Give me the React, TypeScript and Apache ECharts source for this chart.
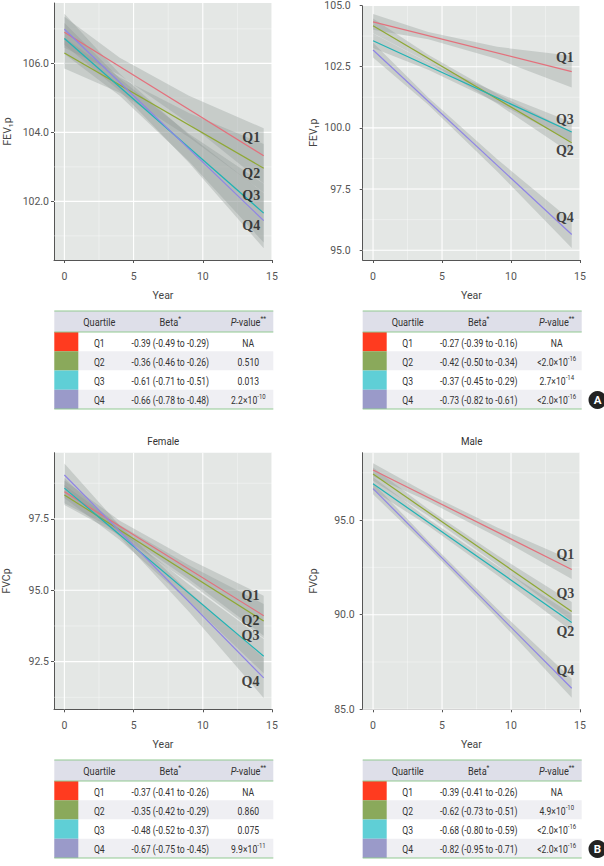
import React, { useEffect, useRef } from "react";
import * as echarts from "echarts";

// ---------------- data ----------------
const quartiles = ["Q1", "Q2", "Q3", "Q4"];
const fitYears = [0, 14.4];
const bandYears = [0, 4, 9, 14.4];
const xTickValues = [0, 5, 10, 15];
const xMinorValues = [2.5, 7.5, 12.5];

// A, female FEV1p
const fevFemaleFit = [[106.9, 103.32], [106.3, 102.96], [106.72, 101.66], [106.99, 101.44]];
const fevFemaleLow = [[106.45, 105.66, 104.26, 102.52], [105.85, 105.15, 103.86, 102.26], [106.27, 105.06, 103.16, 100.81], [106.54, 105.2, 103.12, 100.64]];
const fevFemaleHigh = [[107.35, 106.16, 105.06, 104.12], [106.75, 105.59, 104.56, 103.66], [107.17, 105.56, 103.96, 102.51], [107.44, 105.7, 103.92, 102.24]];
const fevFemaleLabelAt = [[13.5, 103.84], [13.5, 102.82], [13.5, 102.18], [13.5, 101.29]];
const fevFemaleTicks = [102, 104, 106];
const fevFemaleMinor = [101, 103, 105, 107];
const fevFemaleBeta = ["-0.39 (-0.49 to -0.29)", "-0.36 (-0.46 to -0.26)", "-0.61 (-0.71 to -0.51)", "-0.66 (-0.78 to -0.48)"];
const fevFemaleP = ["NA", "0.510", "0.013", "2.2×10^-10"];

// A, male FEV1p
const fevMaleFit = [[104.33, 102.3], [104.17, 99.39], [103.56, 99.83], [103.18, 95.64]];
const fevMaleLow = [[104.01, 103.62, 102.81, 101.65], [103.87, 102.69, 100.98, 98.94], [103.26, 102.37, 101.03, 99.43], [102.88, 100.94, 98.22, 95.09]];
const fevMaleHigh = [[104.65, 103.92, 103.31, 102.95], [104.47, 102.99, 101.38, 99.84], [103.86, 102.67, 101.43, 100.23], [103.48, 101.24, 98.72, 96.19]];
const fevMaleLabelAt = [[13.9, 102.86], [13.9, 99.06], [13.9, 100.34], [13.9, 96.35]];
const fevMaleTicks = [95, 97.5, 100, 102.5, 105];
const fevMaleMinor = [96.25, 98.75, 101.25, 103.75];
const fevMaleBeta = ["-0.27 (-0.39 to -0.16)", "-0.42 (-0.50 to -0.34)", "-0.37 (-0.45 to -0.29)", "-0.73 (-0.82 to -0.61)"];
const fevMaleP = ["NA", "<2.0×10^-16", "2.7×10^-14", "<2.0×10^-16"];

// B, female FVCp
const fvcFemaleFit = [[98.45, 94.11], [98.34, 93.92], [98.58, 92.69], [99.04, 91.93]];
const fvcFemaleLow = [[98.05, 97.04, 95.39, 93.41], [97.99, 96.93, 95.28, 93.32], [98.23, 96.76, 94.6, 92.09], [98.64, 96.87, 94.25, 91.23]];
const fvcFemaleHigh = [[98.85, 97.44, 96.09, 94.81], [98.69, 97.29, 95.88, 94.52], [98.93, 97.12, 95.2, 93.29], [99.44, 97.27, 94.95, 92.63]];
const fvcFemaleLabelAt = [[13.45, 94.83], [13.45, 93.93], [13.45, 93.41], [13.45, 91.79]];
const fvcFemaleTicks = [92.5, 95, 97.5];
const fvcFemaleMinor = [91.25, 93.75, 96.25, 98.75];
const fvcFemaleBeta = ["-0.37 (-0.41 to -0.26)", "-0.35 (-0.42 to -0.29)", "-0.48 (-0.52 to -0.37)", "-0.67 (-0.75 to -0.45)"];
const fvcFemaleP = ["NA", "0.860", "0.075", "9.9×10^-11"];

// B, male FVCp
const fvcMaleFit = [[97.65, 92.39], [97.43, 90.17], [96.92, 89.59], [96.66, 86.11]];
const fvcMaleLow = [[97.3, 95.99, 94.11, 91.89], [97.08, 95.23, 92.64, 89.67], [96.57, 94.7, 92.09, 89.14], [96.36, 93.55, 89.82, 85.61]];
const fvcMaleHigh = [[98.0, 96.39, 94.61, 92.89], [97.78, 95.59, 93.14, 90.67], [97.27, 95.06, 92.59, 90.04], [96.96, 93.91, 90.32, 86.61]];
const fvcMaleLabelAt = [[13.94, 93.2], [13.94, 89.09], [13.94, 91.12], [13.94, 87.03]];
const fvcMaleTicks = [85, 90, 95];
const fvcMaleMinor = [87.5, 92.5, 97.5];
const fvcMaleBeta = ["-0.39 (-0.41 to -0.26)", "-0.62 (-0.73 to -0.51)", "-0.68 (-0.80 to -0.59)", "-0.82 (-0.95 to -0.71)"];
const fvcMaleP = ["NA", "4.9×10^-10", "<2.0×10^-16", "<2.0×10^-16"];

const tableHeader = ["Quartile", "Beta*", "P-value**"];
const sexTitles = ["Female", "Male"];
const panelTags = ["A", "B"];

// ---------------- style ----------------
const SANS = "Roboto, 'Noto Sans', sans-serif";
const SERIF = "'Liberation Serif', 'DejaVu Serif', serif";
const lineColors = ["#e4707c", "#8fa834", "#1fb3b5", "#8f84e6"];
const swatchColors = ["#ff3b1f", "#8aa95b", "#5fcfd6", "#9a9ac9"];
const BAND = "rgba(140,148,146,0.33)";
const PANEL_BG = "#e4e7e5";
const AXIS = "#555";

const panels = [
  { fit: fevFemaleFit, low: fevFemaleLow, high: fevFemaleHigh, labelAt: fevFemaleLabelAt, ticks: fevFemaleTicks, minor: fevFemaleMinor, yMin: 100.3, yMax: 107.75, yName: "FEV₁p", beta: fevFemaleBeta, p: fevFemaleP, left: 54, top: 3, width: 218, height: 257, labelMargin: 5, nameGap: 41, tableTop: 311 },
  { fit: fevMaleFit, low: fevMaleLow, high: fevMaleHigh, labelAt: fevMaleLabelAt, ticks: fevMaleTicks, minor: fevMaleMinor, yMin: 94.6, yMax: 105.0, yName: "FEV₁p", beta: fevMaleBeta, p: fevMaleP, left: 362.7, top: 3, width: 217.3, height: 257, labelMargin: 12, nameGap: 44, tableTop: 311 },
  { fit: fvcFemaleFit, low: fvcFemaleLow, high: fvcFemaleHigh, labelAt: fvcFemaleLabelAt, ticks: fvcFemaleTicks, minor: fvcFemaleMinor, yMin: 90.83, yMax: 99.82, yName: "FVCp", beta: fvcFemaleBeta, p: fvcFemaleP, left: 54, top: 452.7, width: 218, height: 256.6, labelMargin: 5, nameGap: 42, tableTop: 760 },
  { fit: fvcMaleFit, low: fvcMaleLow, high: fvcMaleHigh, labelAt: fvcMaleLabelAt, ticks: fvcMaleTicks, minor: fvcMaleMinor, yMin: 85.0, yMax: 98.56, yName: "FVCp", beta: fvcMaleBeta, p: fvcMaleP, left: 362.7, top: 452.7, width: 217.3, height: 256.6, labelMargin: 8, nameGap: 44, tableTop: 760 },
];

const X_MIN = -0.75;
const X_MAX = 15;

function supText(s: string) {
  if (s.indexOf("^") < 0) return "{n|" + s + "}";
  const [base, exp] = s.split("^");
  return "{n|" + base + "}{s|" + exp + "}";
}

const TXT = "#333333";
const richStyles = {
  n: { fontSize: 11.5, fontFamily: SANS, fill: TXT, lineHeight: 14, verticalAlign: "bottom" },
  s: { fontSize: 8, fontFamily: SANS, fill: TXT, lineHeight: 8, verticalAlign: "top" },
  i: { fontSize: 11.5, fontFamily: SANS, fill: TXT, lineHeight: 14, fontStyle: "italic", verticalAlign: "bottom" },
};

function cellText(x: number, y: number, text: string, scaleX = 0.75) {
  return {
    type: "text",
    x,
    y,
    scaleX,
    z: 10,
    silent: true,
    style: { text, rich: richStyles, align: "center", verticalAlign: "middle", fontSize: 11.5, fontFamily: SANS, fill: TXT },
  };
}

function tableGraphics(pi: number) {
  const p = panels[pi];
  const x0 = pi % 2 === 0 ? 54.3 : 362.7;
  const W = 219;
  const y0 = p.tableTop;
  const headH = 21;
  const rowH = 19.25;
  const els: any[] = [];
  els.push({ type: "rect", z: 5, silent: true, shape: { x: x0, y: y0, width: W, height: headH }, style: { fill: "#dedfe9" } });
  for (let r = 0; r < 4; r++) {
    const ry = y0 + headH + r * rowH;
    els.push({ type: "rect", z: 5, silent: true, shape: { x: x0, y: ry, width: W, height: rowH }, style: { fill: r % 2 === 1 ? "#efeff3" : "#ffffff" } });
    els.push({ type: "rect", z: 6, silent: true, shape: { x: x0, y: ry, width: 24, height: rowH }, style: { fill: swatchColors[r] } });
    const cy = ry + rowH / 2;
    els.push(cellText(x0 + 45, cy, "{n|" + quartiles[r] + "}"));
    els.push(cellText(x0 + 116, cy, "{n|" + p.beta[r] + "}"));
    els.push(cellText(x0 + 194, cy, supText(p.p[r])));
  }
  const hy = y0 + headH / 2;
  els.push(cellText(x0 + 45, hy, "{n|" + tableHeader[0] + "}", 0.8));
  els.push(cellText(x0 + 116, hy, "{n|" + tableHeader[1].replace("*", "") + "}{s|*}", 0.8));
  els.push(cellText(x0 + 194, hy, "{i|P}{n|" + tableHeader[2].slice(1).replace("**", "") + "}{s|**}", 0.8));
  const green = "#92c992";
  [y0, y0 + headH, y0 + headH + 4 * rowH].forEach((ly) => {
    els.push({ type: "line", z: 7, silent: true, shape: { x1: x0, y1: ly, x2: x0 + W, y2: ly }, style: { stroke: green, lineWidth: 1.2 } });
  });
  return els;
}

export default function App() {
  const ref = useRef<HTMLDivElement>(null);
  useEffect(() => {
    if (!ref.current) return;
    const chart = echarts.init(ref.current, undefined, { renderer: "svg" });

    const grid: any[] = [];
    const xAxis: any[] = [];
    const yAxis: any[] = [];
    const series: any[] = [];

    panels.forEach((p, i) => {
      grid.push({ left: p.left, top: p.top, width: p.width, height: p.height, show: true, backgroundColor: PANEL_BG, borderWidth: 0 });
      xAxis.push({
        gridIndex: i, type: "value", min: X_MIN, max: X_MAX,
        axisLine: { show: true, onZero: false, lineStyle: { color: AXIS, width: 1 } },
        axisTick: { show: true, customValues: xTickValues, length: 3, lineStyle: { color: AXIS } },
        axisLabel: { customValues: xTickValues, margin: 11, color: "#555", fontSize: 10.5, fontFamily: SANS, formatter: (v: number) => String(v) },
        splitLine: { show: false },
        name: "Year", nameLocation: "middle", nameGap: 30,
        nameTextStyle: { color: "#444", fontSize: 10.5, fontFamily: SANS },
      });
      yAxis.push({
        gridIndex: i, type: "value", min: p.yMin, max: p.yMax,
        axisLine: { show: true, onZero: false, lineStyle: { color: AXIS, width: 1 } },
        axisTick: { show: true, customValues: p.ticks, length: 3, lineStyle: { color: AXIS } },
        axisLabel: { customValues: p.ticks, margin: p.labelMargin, color: "#555", fontSize: 10.5, fontFamily: SANS, formatter: (v: number) => v.toFixed(1) },
        splitLine: { show: false },
        name: p.yName, nameLocation: "middle", nameGap: p.nameGap,
        nameTextStyle: { color: "#444", fontSize: 10.5, fontFamily: SANS },
      });

      // grid lines (major / minor)
      const gl: number[][] = [];
      p.ticks.forEach((v) => gl.push([0, v]));
      p.minor.forEach((v) => gl.push([1, v]));
      xTickValues.forEach((v) => gl.push([2, v]));
      xMinorValues.forEach((v) => gl.push([3, v]));
      series.push({
        type: "custom", xAxisIndex: i, yAxisIndex: i, z: 1, silent: true,
        data: gl,
        encode: { x: -1, y: -1 },
        renderItem: (params: any, api: any) => {
          const kind = api.value(0);
          const v = api.value(1);
          const cs = params.coordSys;
          const major = kind === 0 || kind === 2;
          const style = { stroke: major ? "#ffffff" : "rgba(255,255,255,0.6)", lineWidth: major ? 1.1 : 0.6 };
          if (kind < 2) {
            const y = api.coord([0, v])[1];
            return { type: "line", shape: { x1: cs.x, y1: y, x2: cs.x + cs.width, y2: y }, style };
          }
          const x = api.coord([v, p.yMin])[0];
          return { type: "line", shape: { x1: x, y1: cs.y, x2: x, y2: cs.y + cs.height }, style };
        },
      });

      // confidence bands
      quartiles.forEach((q, k) => {
        series.push({
          type: "custom", xAxisIndex: i, yAxisIndex: i, z: 2, silent: true,
          data: bandYears.map((x, j) => [x, p.low[k][j], p.high[k][j]]),
          encode: { x: 0, y: [1, 2] },
          renderItem: (params: any, api: any) => {
            if (params.dataIndex !== 0) return { type: "group", children: [] };
            const top = bandYears.map((x, j) => api.coord([x, p.high[k][j]]));
            const bot = bandYears.map((x, j) => api.coord([x, p.low[k][j]])).reverse();
            return { type: "polygon", shape: { points: top.concat(bot) }, style: { fill: BAND } };
          },
        });
      });

      // fitted lines
      quartiles.forEach((q, k) => {
        series.push({
          type: "line", name: q, xAxisIndex: i, yAxisIndex: i, z: 3, silent: true,
          data: fitYears.map((x, j) => [x, p.fit[k][j]]),
          symbol: "none", showSymbol: false,
          lineStyle: { color: lineColors[k], width: 1.2 },
        });
      });

      // Q labels
      series.push({
        type: "scatter", xAxisIndex: i, yAxisIndex: i, z: 4, silent: true,
        symbolSize: 1, itemStyle: { color: "rgba(0,0,0,0)" },
        data: quartiles.map((q, k) => ({ name: q, value: p.labelAt[k] })),
        label: { show: true, position: "inside", formatter: "{b}", fontFamily: SERIF, fontWeight: "bold", fontSize: 14, lineHeight: 14, color: "#151515" },
      });
    });

    const graphic: any[] = [];
    panels.forEach((_, i) => graphic.push(...tableGraphics(i)));
    // titles
    graphic.push({ type: "text", x: 163.3, y: 441.7, scaleX: 0.85, silent: true, style: { text: sexTitles[0], align: "center", verticalAlign: "middle", fontSize: 11.5, fontFamily: SANS, fill: TXT } });
    graphic.push({ type: "text", x: 471.7, y: 441.7, scaleX: 0.85, silent: true, style: { text: sexTitles[1], align: "center", verticalAlign: "middle", fontSize: 11.5, fontFamily: SANS, fill: TXT } });
    // panel tags
    [400, 849].forEach((cy, k) => {
      graphic.push({ type: "circle", silent: true, z: 20, shape: { cx: 597.5, cy, r: 9 }, style: { fill: "#222" } });
      graphic.push({ type: "text", silent: true, z: 21, x: 597.5, y: cy, style: { text: panelTags[k], align: "center", verticalAlign: "middle", fontSize: 11.5, fontWeight: "bold", fontFamily: SANS, fill: "#fff" } });
    });

    chart.setOption({ animation: false, grid, xAxis, yAxis, series, graphic });
    return () => chart.dispose();
  }, []);

  return <div ref={ref} style={{ position: "absolute", left: 0, top: 0, width: 604, height: 866, background: "#fff" }} />;
}
